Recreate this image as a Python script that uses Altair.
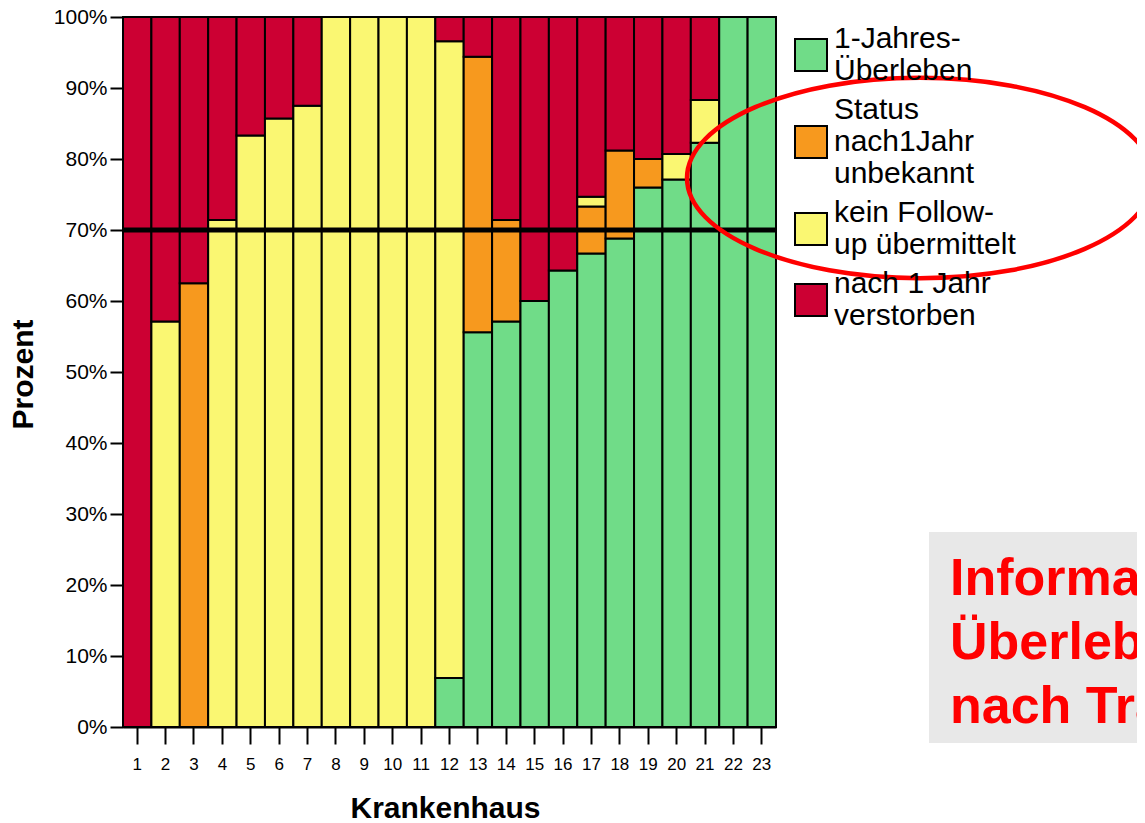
import altair as alt
import pandas as pd

# ---- data (percent per hospital) ----
krankenhaus = list(range(1, 24))
kategorien = [
    "1-Jahres-\nÜberleben",
    "Status\nnach1Jahr\nunbekannt",
    "kein Follow-\nup übermittelt",
    "nach 1 Jahr\nverstorben",
]
farben = ["#70DC88", "#F7991E", "#FAF772", "#CC0033"]
rahmen = ["#000000", "#000000", "#000000", "#000000"]

ueberlebt = [0, 0, 0, 0, 0, 0, 0, 0, 0, 0, 0, 6.9, 55.6, 57.1, 60.0, 64.3, 66.7, 68.8, 76.0, 77.1, 82.3, 100, 100]
unbekannt = [0, 0, 62.5, 0, 0, 0, 0, 0, 0, 0, 0, 0, 38.8, 14.3, 0, 0, 6.6, 12.4, 4.0, 0, 0, 0, 0]
kein_followup = [0, 57.1, 0, 71.4, 83.3, 85.7, 87.5, 100, 100, 100, 100, 89.7, 0, 0, 0, 0, 1.4, 0, 0, 3.6, 6.0, 0, 0]
verstorben = [100, 42.9, 37.5, 28.6, 16.7, 14.3, 12.5, 0, 0, 0, 0, 3.4, 5.6, 28.6, 40.0, 35.7, 25.3, 18.8, 20.0, 19.3, 11.7, 0, 0]

referenz = [70]
y_ticks = [0, 10, 20, 30, 40, 50, 60, 70, 80, 90, 100]
info_text = ["Informationen zum", "Überleben", "nach Transplantation"]

serien = [ueberlebt, unbekannt, kein_followup, verstorben]
rows = []
for i, k in enumerate(krankenhaus):
    for j, s in enumerate(serien):
        if s[i] > 0:
            rows.append({"Krankenhaus": k, "Status": kategorien[j], "ord": j, "Prozent": s[i]})
df = pd.DataFrame(rows)

FONT = "Liberation Sans"

# legend swatches: squares shifted down so they sit at the middle of the
# multi-line label block (2-line labels: half a line, 3-line labels: one line)
sq2 = "M -1 0 L 1 0 L 1 2 L -1 2 Z"
sq3 = "M -1 1 L 1 1 L 1 3 L -1 3 Z"
legend_shapes = [sq2, sq3, sq2, sq2]

leg = alt.Legend(
    title=None, orient="none", legendX=671, legendY=5, padding=0,
    labelExpr="split(datum.label, '\\n')", labelFontSize=30, labelFont=FONT,
    labelColor="black", labelLimit=400, labelOffset=6,
    symbolSize=1024, symbolStrokeColor="black",
    symbolStrokeWidth=2, symbolOpacity=1, rowPadding=7,
)

fill_enc = alt.Fill("Status:N", scale=alt.Scale(domain=kategorien, range=farben), legend=leg)
shape_enc = alt.Shape("Status:N", scale=alt.Scale(domain=kategorien, range=legend_shapes), legend=leg)
stroke_enc = alt.Stroke("Status:N", scale=alt.Scale(domain=kategorien, range=rahmen), legend=leg)

x_enc = alt.X(
    "Krankenhaus:O",
    scale=alt.Scale(paddingInner=0, paddingOuter=0),
    axis=alt.Axis(
        title="Krankenhaus", labelAngle=0, tickSize=17, tickWidth=2, tickColor="black",
        domainColor="black", domainWidth=2, labelFontSize=17, labelPadding=25,
        labelBaseline="alphabetic", labelColor="black", labelFont=FONT,
        titleFont=FONT, titleFontSize=30, titleFontWeight="bold", titleColor="black",
        titleX=322, titleY=90, titleBaseline="alphabetic", grid=False,
    ),
)
y_enc = alt.Y(
    "Prozent:Q", stack="zero",
    scale=alt.Scale(domain=[0, 100], nice=False),
    axis=alt.Axis(
        title="Prozent", values=y_ticks, labelExpr="datum.value + '%'",
        tickSize=13, tickWidth=2, tickColor="black", domainColor="black", domainWidth=2,
        labelFontSize=21, labelPadding=3, labelColor="black", labelFont=FONT,
        titleFont=FONT, titleFontSize=30, titleFontWeight="bold", titleColor="black",
        titleX=-100, titleY=357, titleBaseline="middle", grid=False,
    ),
)

bars = alt.Chart(df).mark_bar(strokeWidth=2, opacity=1).encode(
    x=x_enc, y=y_enc, fill=fill_enc, stroke=stroke_enc,
    order=alt.Order("ord:Q", sort="ascending"),
)

# invisible points that only carry the legend shapes
legend_points = alt.Chart(df).mark_point(
    filled=True, opacity=0, strokeWidth=2
).encode(
    x=x_enc, y=y_enc, fill=fill_enc, shape=shape_enc, stroke=stroke_enc,
)

rule = alt.Chart(pd.DataFrame({"v": referenz})).mark_rule(color="black", strokeWidth=5).encode(
    y=alt.Y("v:Q")
)

one = pd.DataFrame({"a": [0]})
box = alt.Chart(one).mark_rect(color="#E8E8E8").encode(
    x=alt.value(806), x2=alt.value(1030), y=alt.value(515), y2=alt.value(726)
)
txt = alt.Chart(one).mark_text(
    align="left", baseline="alphabetic", fontSize=52, fontWeight="bold",
    color="#FF0000", lineHeight=64, font=FONT,
).encode(x=alt.value(827), y=alt.value(578), text=alt.value(info_text))

r = 0.43
k = 0.5523
path = (
    f"M -1 0 C -1 {-k*r:.4f} {-k:.4f} {-r:.4f} 0 {-r:.4f} "
    f"C {k:.4f} {-r:.4f} 1 {-k*r:.4f} 1 0 "
    f"C 1 {k*r:.4f} {k:.4f} {r:.4f} 0 {r:.4f} "
    f"C {-k:.4f} {r:.4f} -1 {k*r:.4f} -1 0 Z"
)
ellipse = alt.Chart(one).mark_point(
    shape=path, size=466 * 466, filled=False, stroke="#FF0000", strokeWidth=4.5, opacity=1
).encode(x=alt.value(797), y=alt.value(161))

chart = alt.layer(bars, legend_points, rule, box, txt, ellipse).properties(
    width=653, height=710,
    autosize=alt.AutoSizeParams(type="none"),
    padding={"left": 115, "top": 9, "right": 361, "bottom": 95},
).configure_view(strokeWidth=0)

chart.save("out.html", embed_options={"renderer": "svg", "actions": False})
